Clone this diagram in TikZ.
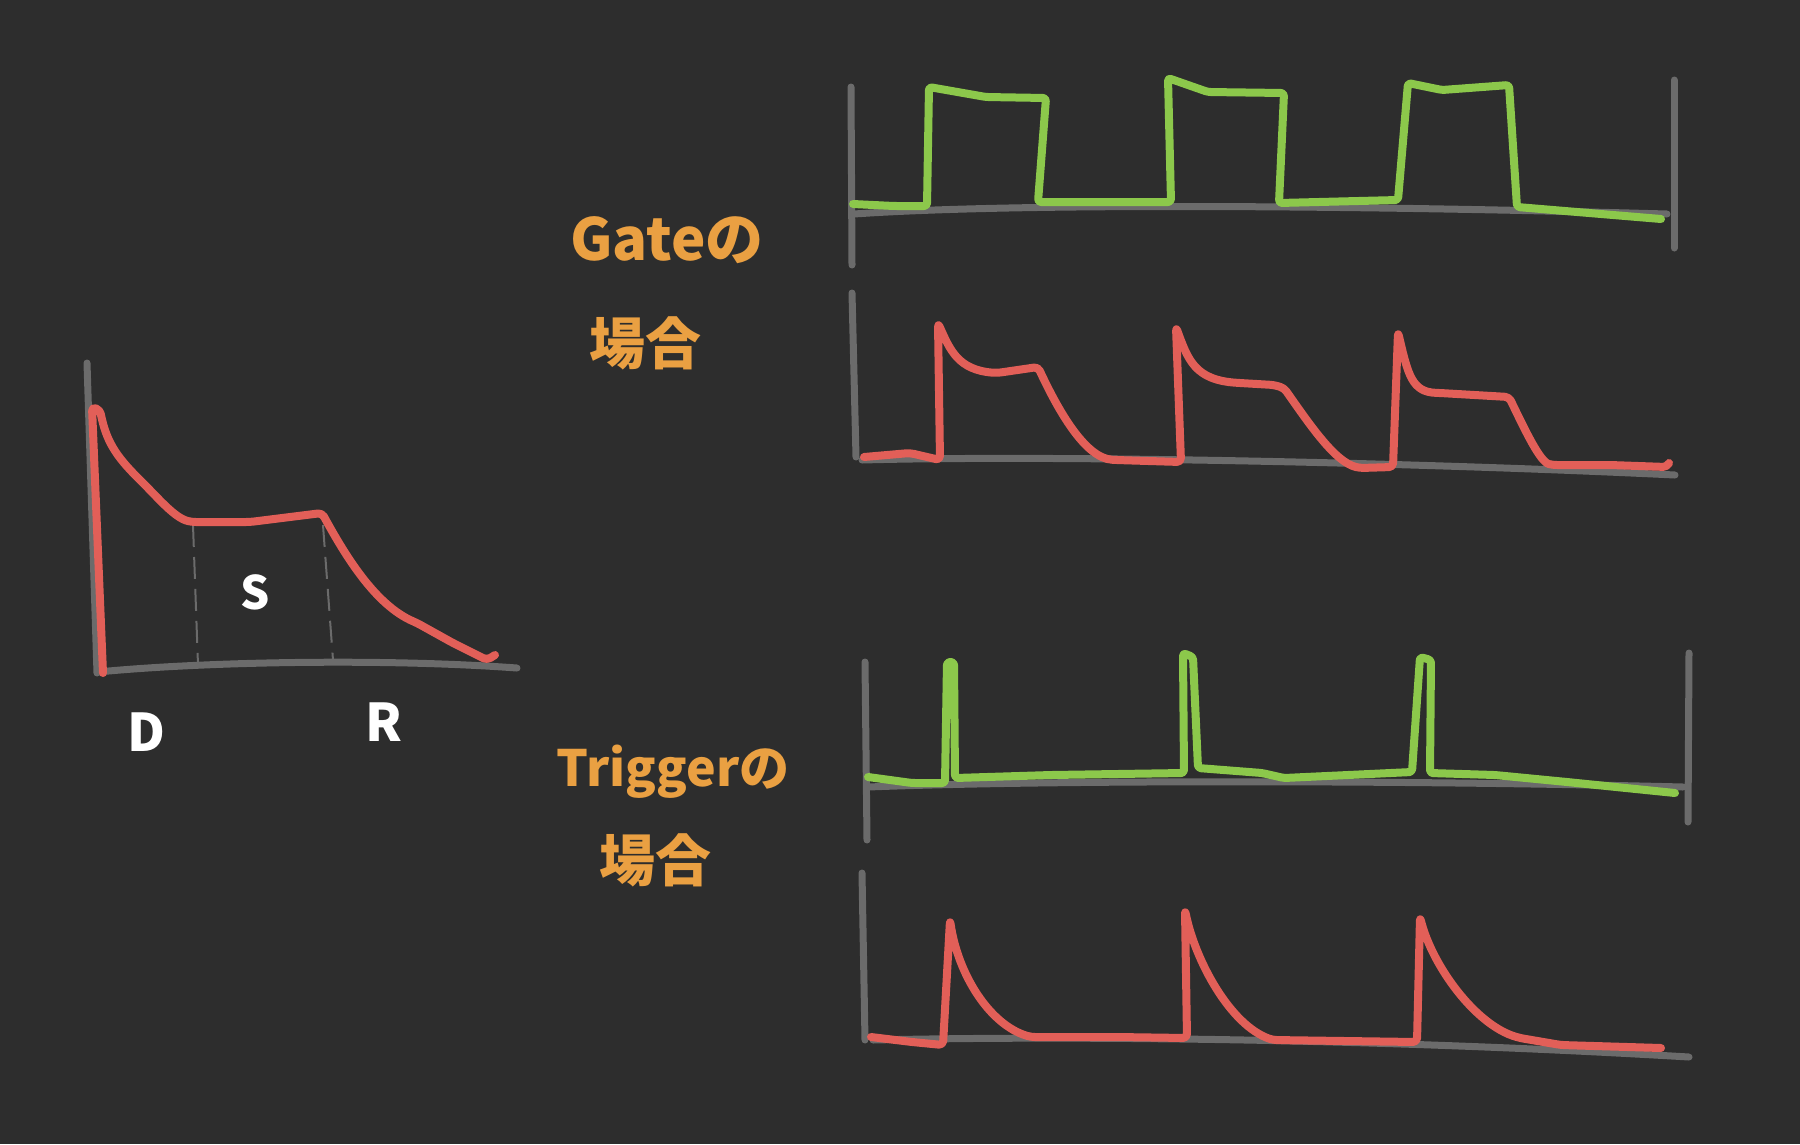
\documentclass[tikz,border=0pt]{standalone}
\usepackage{fontspec}
\newfontfamily\jpfont{Noto Sans CJK JP}
\definecolor{bgc}{HTML}{2D2D2D}
\definecolor{axc}{HTML}{6B6B6B}
\definecolor{grn}{HTML}{8CC84B}
\definecolor{rdc}{HTML}{E25F58}
\definecolor{org}{HTML}{EAA042}
\begin{document}
\begin{tikzpicture}[x=1pt,y=-1pt,
  axis/.style={draw=axc,line width=7pt,line cap=round,line join=round},
  gsig/.style={draw=grn,line width=8pt,line cap=round,line join=round,rounded corners=3pt},
  rsig/.style={draw=rdc,line width=8pt,line cap=round,line join=round,rounded corners=4pt},
  guide/.style={draw=axc,line width=2pt,dash pattern=on 22pt off 10pt},
  lbl/.style={text=org,inner sep=0pt},
  adsr/.style={text=white,inner sep=0pt}]
\fill[bgc] (0,0) rectangle (1800,1144);
\useasboundingbox (0,0) rectangle (1800,1144);

% ---------- left ADSR sketch ----------
\draw[axis] (87,363) -- (97,673);
\draw[axis] (98,672) .. controls (200,662) and (380,658) .. (517,668);
\draw[guide] (193,525) -- (198,665);
\draw[guide] (323,525) -- (333,660);
\draw[rsig] (103,673) -- (92,407) -- (100,410)
  .. controls (106,440) and (115,455) .. (140,480)
  .. controls (160,500) and (175,518) .. (192,522)
  -- (250,522) -- (322,513)
  .. controls (345,555) and (375,605) .. (417,623)
  -- (453,643) -- (487,660) -- (495,655);
\node[adsr,font=\jpfont\bfseries\fontsize{46}{46}\selectfont] (lS) at (255,592) {S};
\node[adsr,font=\jpfont\bfseries\fontsize{52}{52}\selectfont] (lD) at (146,732) {D};
\node[adsr,font=\jpfont\bfseries\fontsize{52}{52}\selectfont] (lR) at (384,722) {R};

% ---------- labels ----------
\node[lbl,font=\jpfont\bfseries\fontsize{58}{58}\selectfont] (gate1) at (667,240) {Gateの};
\node[lbl,font=\jpfont\bfseries\fontsize{56}{56}\selectfont] (gate2) at (645,343) {場合};
\node[lbl,font=\jpfont\bfseries\fontsize{50}{50}\selectfont] (trig1) at (673,772) {Triggerの};
\node[lbl,font=\jpfont\bfseries\fontsize{56}{56}\selectfont] (trig2) at (655,860) {場合};

% ---------- Gate: gate signal ----------
\draw[axis] (851,87) -- (852,265);
\draw[axis] (1674,80) -- (1674,248);
\draw[axis] (854,214) .. controls (1000,204) and (1300,204) .. (1667,214);
\draw[gsig] (853,204) -- (894,206) -- (927,206) -- (929,87) -- (986,97) -- (1046,98)
  -- (1038,202) -- (1111,202) -- (1171,202) -- (1168,78) -- (1208,92) -- (1284,93)
  -- (1279,203) -- (1398,200) -- (1408,83) -- (1442,90) -- (1509,85)
  -- (1517,207) -- (1577,212) -- (1661,219);

% ---------- Gate: envelope ----------
\draw[axis] (852,293) -- (856,457);
\draw[axis] (862,460) .. controls (1050,455) and (1400,462) .. (1675,475);
\draw[rsig] (864,457) -- (910,453) -- (940,460) -- (938,323)
  .. controls (950,350) and (958,370) .. (997,373)
  -- (1038,367)
  .. controls (1058,410) and (1085,458) .. (1116,460)
  -- (1181,462) -- (1176,327)
  .. controls (1188,360) and (1195,380) .. (1240,383)
  -- (1274,385) -- (1284,388)
  .. controls (1310,425) and (1335,462) .. (1360,468)
  -- (1393,467) -- (1398,332)
  .. controls (1408,375) and (1412,392) .. (1440,393)
  -- (1509,397)
  .. controls (1525,430) and (1540,462) .. (1553,465)
  -- (1610,465) -- (1667,467) -- (1669,463);

% ---------- Trigger: trigger signal ----------
\draw[axis] (865,662) -- (867,840);
\draw[axis] (1689,653) -- (1688,822);
\draw[axis] (868,787) .. controls (1050,780) and (1400,780) .. (1683,787);
\draw[gsig] (868,777) -- (912,783) -- (945,783) -- (947,662) -- (954,662) -- (955,778)
  -- (1051,775) -- (1184,773) -- (1183,653) -- (1193,657) -- (1198,768) -- (1262,773)
  -- (1284,778) -- (1412,772) -- (1420,657) -- (1431,660) -- (1430,773) -- (1495,775)
  -- (1567,782) -- (1675,793);

% ---------- Trigger: envelope ----------
\draw[axis] (862,873) -- (865,1040);
\draw[axis] (873,1040) .. controls (1100,1035) and (1400,1040) .. (1689,1057);
\draw[rsig] (871,1037) -- (912,1042) -- (943,1045) -- (950,920)
  .. controls (958,975) and (990,1025) .. (1031,1037)
  -- (1117,1037) -- (1187,1038) -- (1185,910)
  .. controls (1195,960) and (1230,1025) .. (1273,1040)
  -- (1417,1042) -- (1420,917)
  .. controls (1432,965) and (1475,1025) .. (1520,1038)
  -- (1561,1045) -- (1661,1048);
\end{tikzpicture}
\end{document}
